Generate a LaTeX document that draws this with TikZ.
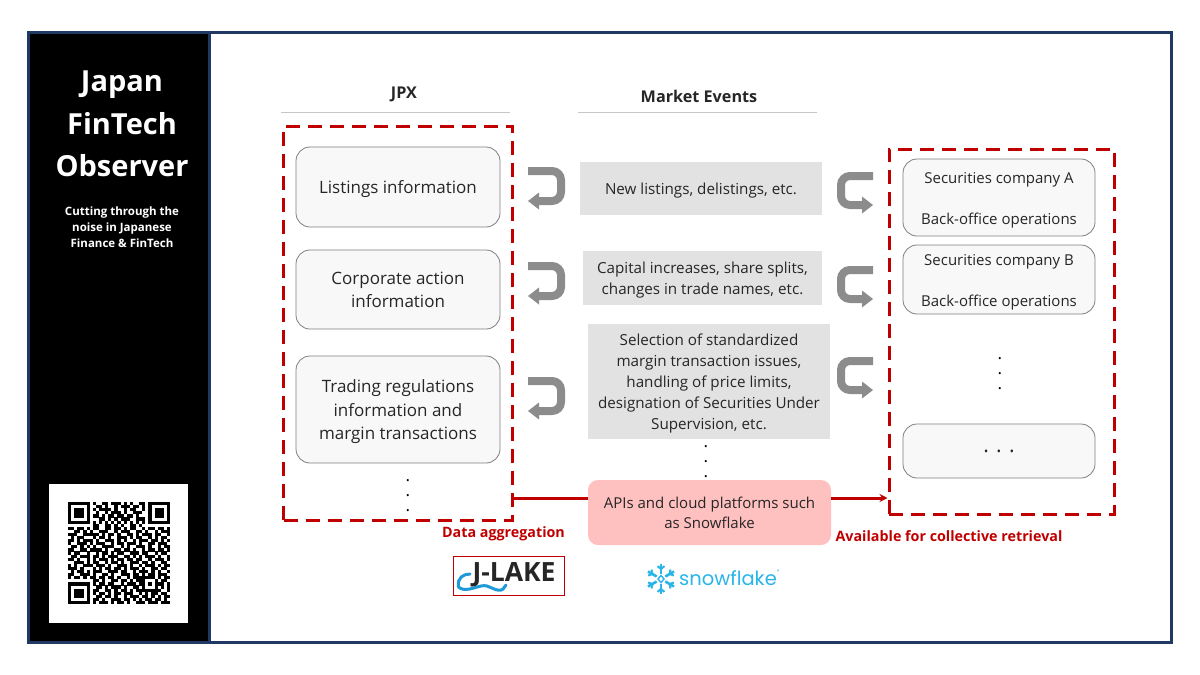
\documentclass[tikz,border=0pt]{standalone}
\usepackage{fontspec}
\setmainfont{Open Sans}
\newfontfamily\popfont{Poppins}
\usetikzlibrary{arrows.meta}
\definecolor{navy}{HTML}{1F3864}
\definecolor{dashred}{HTML}{C00000}
\definecolor{txt}{HTML}{262626}
\definecolor{boxfill}{HTML}{F8F8F8}
\definecolor{boxline}{HTML}{7F7F7F}
\definecolor{graybg}{HTML}{E2E2E2}
\definecolor{pinkbg}{HTML}{FFC0C0}
\definecolor{uarrow}{HTML}{8C8C8C}
\definecolor{snow}{HTML}{29B5E8}
\definecolor{wave}{HTML}{1E9BD7}
\newcount\qc \newcount\qr
\def\qrscan#1{\ifx#1;\else\ifx#1X\fill (\the\qc,\the\qr) rectangle ++(1.03,1.03);\fi\advance\qc by 1 \expandafter\qrscan\fi}
\def\qrrow#1{\qc=0 \qrscan#1;\advance\qr by 1 }
\newcommand{\dn}[1]{\raisebox{-2pt}[\height][\depth]{\begin{tabular}{@{}c@{}}#1\end{tabular}}}
\tikzset{
  x=1pt,y=-1pt,
  infobox/.style={draw=boxline,line width=0.8pt,fill=boxfill,rounded corners=14pt,inner sep=0pt,text=txt,font=\fontsize{17}{23.5}\selectfont},
  secbox/.style={infobox,font=\fontsize{15}{20.5}\selectfont},
  evbox/.style={fill=graybg,inner sep=0pt,text=txt,font=\fontsize{15.2}{21}\selectfont},
  apibox/.style={fill=pinkbg,rounded corners=10pt,inner sep=0pt,text=txt,font=\fontsize{15}{20}\selectfont},
  head/.style={text=txt,font=\fontsize{16.2}{18}\selectfont\bfseries},
  redlabel/.style={text=dashred,font=\fontsize{14.3}{17}\selectfont\bfseries},
  dashbox/.style={draw=dashred,line width=3pt,dash pattern=on 14pt off 8pt,inner sep=0pt},
  redlink/.style={draw=dashred,line width=3pt},
  rule/.style={draw=black!22,line width=0.8pt},
  title/.style={text=white,font=\fontsize{29}{34}\selectfont\bfseries},
  sub/.style={text=white,align=center,font=\fontsize{11.5}{16}\selectfont\bfseries},
  dotstack/.style={text=black,font=\fontsize{17}{15}\selectfont,align=center,inner sep=0pt},
  ushaft/.style={draw=uarrow,line width=8pt,rounded corners=9pt},
  uhead/.style={fill=uarrow},
  pics/leftu/.style={code={
    \draw[ushaft] (0,4) -- (33,4) -- (33,34) -- (10,34);
    \fill[uhead] (0,34) -- (11,25.5) -- (11,42.5) -- cycle;}},
  pics/rightu/.style={code={
    \draw[ushaft] (36,4) -- (4,4) -- (4,33) -- (26,33);
    \fill[uhead] (36,33) -- (25,24.5) -- (25,41.5) -- cycle;}},
}
\begin{document}
\begin{tikzpicture}
\useasboundingbox (0,0) rectangle (1200,675);
\fill[white] (0,0) rectangle (1200,675);
% frame and side panel
\fill[black] (29,32) rectangle (209,642);
\draw[navy,line width=3pt] (28.5,32) rectangle (1171.5,642);
\draw[navy,line width=3pt] (209.5,32) -- (209.5,642);
\node[title] (t1) at (122,85) {Japan};
\node[title] (t2) at (122,124) {FinTech};
\node[title] (t3) at (122,166) {Observer};
\node[sub] (subt) at (122,227) {Cutting through the\\noise in Japanese\\Finance \& FinTech};
\fill[white] (49,484) rectangle (188,623);
\begin{scope}[shift={(68,502)},x=3.09pt,y=-3.09pt]
\qr=0
\qrrow{XXXXXXX.X..XX.XXX.X.X..XX.XXXXXXX}
\qrrow{X.....X..XX.X..X.XXX.XX.X.X.....X}
\qrrow{X.XXX.X.X.XXXX.X..X.XX..X.X.XXX.X}
\qrrow{X.XXX.X..X..X.XXX.X..XXX..X.XXX.X}
\qrrow{X.XXX.X.XX.X.XX.XX.XX.X...X.XXX.X}
\qrrow{X.....X...XX.X.X.XXX..XXX.X.....X}
\qrrow{XXXXXXX.X.X.X.X.X.X.X.X.X.XXXXXXX}
\qrrow{........XX..XX.X.X..XX.X.........}
\qrrow{XX.XX.X.XX..XX.XX.X.XX..X.XX.XX.X}
\qrrow{..XX.X.X..XXX..X.XXX..XX.X..X.XXX}
\qrrow{XXX..XXXXX.X.XX.X..XX.X.XXX.XX..X}
\qrrow{.X.XX...X.XX.X..XXX.X.XX..X.X.XX.}
\qrrow{XX.X.XXX.X..XXX.X.X..X.XXX.XX.X.X}
\qrrow{X..XXX.X.XXX..X.XX.XXX.X..XX.XXX.}
\qrrow{.XX.X.X.X..XXXX..X.X..XXX.X..X.XX}
\qrrow{XX..XX.XXXX.X..XX.XX.X..X.XX.XX.X}
\qrrow{X.XX..X..X.XX.X.XX..XXX.XX..X.XX.}
\qrrow{.XX.XXX.XX.X.XXX..XX.X.X.XXX.X..X}
\qrrow{XX.X..X.X.XXX.X.XX.XX.XX..X.XXX.X}
\qrrow{..XXX.X.XX..X.XX.X..XXX.XX.X..XX.}
\qrrow{X.X..XXX.XXX.X..XXX.X..X.XXX.X.XX}
\qrrow{XXX.X...X.X.XX.XX.X.XXX.X..XX.XX.}
\qrrow{.X.XX.X.XXX..XXX.XX..X.XXX.X.X..X}
\qrrow{XX..XXX.X..XX.X..XXX.XX.X.XX.XXX.}
\qrrow{X.XX.X.XX.XX.XX.X..X.XXXXXXX.X.XX}
\qrrow{........XX.X..XX.XX.X.XXX...X.XX.}
\qrrow{XXXXXXX.X.XX.XX..X.XXX.XX.X.XXX.X}
\qrrow{X.....X..XX.X.XXX.X..XX.X...X.X.X}
\qrrow{X.XXX.X.XX..XX.X.XX.X.XXXXXXXX..X}
\qrrow{X.XXX.X.X.XX.X.XX.XXX..X.X.XX.XX.}
\qrrow{X.XXX.X..XX.XX.X..X.XXX.XX.X.X.XX}
\qrrow{X.....X.XX.X..XXX.XX.X.X.XX.XX.X.}
\qrrow{XXXXXXX.X.XXX.X.XX.X..XXX.XXX.XXX}
\end{scope}
% headers
\node[head] (jpx) at (404,94.5) {JPX};
\node[head] (mkt) at (699,96) {Market Events};
\coordinate (r1a) at (281,112); \coordinate (r1b) at (510,112);
\coordinate (r2a) at (578,112); \coordinate (r2b) at (817,112);
\draw[rule] (r1a) -- (r1b);
\draw[rule] (r2a) -- (r2b);
% dashed containers
\node[dashbox,minimum width=229pt,minimum height=394pt] (dashL) at (398,323) {};
\node[dashbox,minimum width=225pt,minimum height=365pt] (dashR) at (1001.5,331.5) {};
% left boxes
\node[infobox,minimum width=204pt,minimum height=80pt] (listing) at (398,187) {\dn{Listings information}};
\node[infobox,minimum width=204pt,minimum height=79pt] (corp) at (398,289.5) {\dn{Corporate action\\information}};
\node[infobox,minimum width=204pt,minimum height=107pt] (trade) at (398,409.5) {\dn{Trading regulations\\information and\\margin transactions}};
\node[dotstack] (dotsL) at (408,496) {.\\.\\.};
% event boxes
\node[evbox,minimum width=242pt,minimum height=53pt] (ev1) at (701,188.5) {\dn{New listings, delistings, etc.}};
\node[evbox,minimum width=239pt,minimum height=54pt] (ev2) at (702.5,278) {\dn{Capital increases, share splits,\\changes in trade names, etc.}};
\node[evbox,minimum width=242pt,minimum height=115pt] (ev3) at (709,381.5) {\dn{Selection of standardized\\margin transaction issues,\\handling of price limits,\\designation of Securities Under\\Supervision, etc.}};
\node[dotstack] (dotsC) at (706,462) {.\\.\\.};
% right boxes
\node[secbox,minimum width=192pt,minimum height=77pt] (secA) at (999,197.5) {\dn{Securities company A\\[20.5pt]Back-office operations}};
\node[secbox,minimum width=192pt,minimum height=69pt] (secB) at (999,279.5) {\dn{Securities company B\\[20.5pt]Back-office operations}};
\node[dotstack] (dotsR) at (1000,374) {.\\.\\.};
\node[infobox,minimum width=192pt,minimum height=54pt,font=\fontsize{21}{24}\selectfont] (secN) at (999,451) {. . .};
% api box and connectors
\node[apibox,minimum width=243pt,minimum height=65pt] (api) at (709.5,512.5) {\dn{APIs and cloud platforms such\\as Snowflake}};
\coordinate (linkY) at (0,498);
\draw[redlink] (dashL.east |- linkY) -- (api.west |- linkY);
\draw[redlink,-{Stealth[length=8pt,width=8pt]}] (api.east |- linkY) -- (dashR.west |- linkY);
\node[redlabel] (lagg) at (503.5,533.5) {Data aggregation};
\node[redlabel] (lavail) at (949,536.5) {Available for collective retrieval};
% U arrows
\pic at (528,167) {leftu};
\pic at (528,262) {leftu};
\pic at (528,377) {leftu};
\pic at (837,172) {rightu};
\pic at (837,266) {rightu};
\pic at (837,357) {rightu};
% J-LAKE logo
\node[draw=dashred,line width=0.9pt,minimum width=111pt,minimum height=39pt,inner sep=0pt] (jbox) at (508.5,575.5) {};
\node[text=txt,inner sep=0pt,font=\fontsize{26.5}{28}\selectfont\bfseries] (jtext) at (514,575) {J-LAKE};
\draw[wave,line width=3pt,line cap=round] (458.5,587) .. controls (457,578) and (463,574) .. (470,574);
\draw[wave,line width=3pt,line cap=round] (458.5,587) .. controls (464,592) and (473,588) .. (481,586) .. controls (490,584) and (492,591) .. (501,590) .. controls (505,589) and (503,587) .. (506,585);
% Snowflake logo
\foreach \a in {30,90,150,210,270,330}{
  \draw[snow,line width=2.6pt] (\a:5) ++(661,579) -- ++(\a:10);
  \draw[snow,line width=2pt] (661,579) ++(\a:10) ++(\a+50:4.5) -- ++(\a-130:4.5) -- ++(\a-50:0) -- ++(\a-50:4.5);
}
\draw[snow,line width=1.4pt] (661,575.5) -- (664,579) -- (661,582.5) -- (658,579) -- cycle;
\node[text=snow,inner sep=0pt,anchor=west,font=\fontsize{19.5}{22}\popfont] (snowt) at (679,578) {snowflake\raisebox{1.1ex}{\fontsize{5}{6}\selectfont ®}};
\end{tikzpicture}
\end{document}
